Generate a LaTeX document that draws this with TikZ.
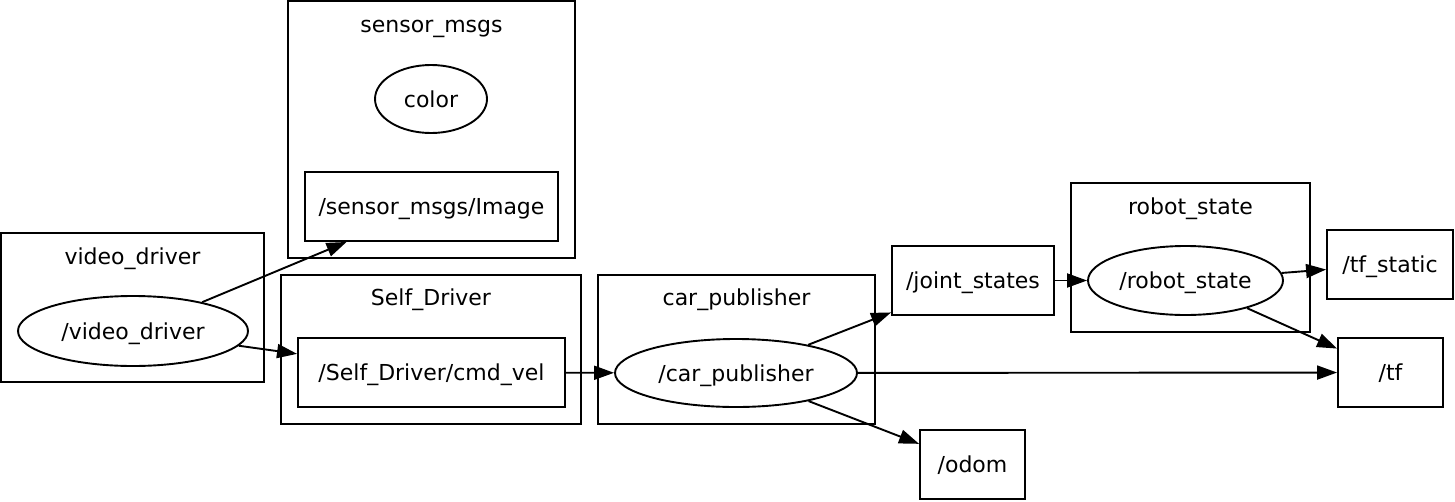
\documentclass[tikz,border=0pt]{standalone}
\usepackage{fontspec}
\setmainfont{DejaVu Sans}
\usetikzlibrary{arrows.meta,shapes.geometric}
\tikzset{
  every node/.style={font=\fontsize{22}{26}\selectfont, inner sep=0pt, text height=18.5pt, text depth=1.7pt},
  cluster/.style={draw, line width=1.9pt, rectangle},
  topicbox/.style={draw, line width=1.9pt, rectangle},
  nodeell/.style={draw, line width=1.9pt, ellipse},
  title/.style={},
  edge/.style={line width=1.9pt, -{Triangle[length=20pt,width=14pt]}}
}
\begin{document}
\begin{tikzpicture}[x=1pt,y=-1pt]
\useasboundingbox (0,0) rectangle (1455,501);
% clusters
\node[cluster, minimum width=287pt, minimum height=257pt] (csensor) at (431.5,129.5) {};
\node[title] (tsensor) at (431.5,24) {sensor\_msgs};
\node[cluster, minimum width=263pt, minimum height=149pt] (cvideo) at (132.5,307.5) {};
\node[title] (tvideo) at (132.5,256) {video\_driver};
\node[cluster, minimum width=300pt, minimum height=149pt] (cself) at (431,349.5) {};
\node[title] (tself) at (431,297) {Self\_Driver};
\node[cluster, minimum width=277pt, minimum height=149pt] (ccar) at (736.5,349.5) {};
\node[title] (tcar) at (736.5,297) {car\_publisher};
\node[cluster, minimum width=239pt, minimum height=149pt] (crobot) at (1190.5,257.5) {};
\node[title] (trobot) at (1190.5,206) {robot\_state};
% nodes
\node[nodeell, minimum width=112pt, minimum height=68pt] (color) at (431,99) {color};
\node[topicbox, minimum width=253pt, minimum height=69pt] (img) at (431.5,206.5) {/sensor\_msgs/Image};
\node[nodeell, minimum width=230pt, minimum height=70pt] (vd) at (133,331) {/video\_driver};
\node[topicbox, minimum width=267pt, minimum height=69pt] (cmd) at (431.5,372.5) {/Self\_Driver/cmd\_vel};
\node[nodeell, minimum width=242pt, minimum height=68pt] (car) at (736,373) {/car\_publisher};
\node[topicbox, minimum width=162pt, minimum height=69pt] (joint) at (973,280.5) {/joint\_states};
\node[topicbox, minimum width=105pt, minimum height=69pt] (odom) at (972.5,464.5) {/odom};
\node[nodeell, minimum width=195pt, minimum height=69pt] (robot) at (1185.5,280.5) {/robot\_state};
\node[topicbox, minimum width=126pt, minimum height=69pt] (tfs) at (1390,264.5) {/tf\_static};
\node[topicbox, minimum width=105pt, minimum height=69pt] (tf) at (1390.5,372.5) {/tf};
% edges
\draw[edge] (vd) -- (img);
\draw[edge] (vd) -- (cmd);
\draw[edge] (cmd) -- (car);
\draw[edge] (car) -- (joint);
\draw[edge] (car) -- (tf);
\draw[edge] (car) -- (odom);
\draw[edge] (joint) -- (robot);
\draw[edge] (robot) -- (tfs);
\draw[edge] (robot) -- (tf);
\end{tikzpicture}
\end{document}
